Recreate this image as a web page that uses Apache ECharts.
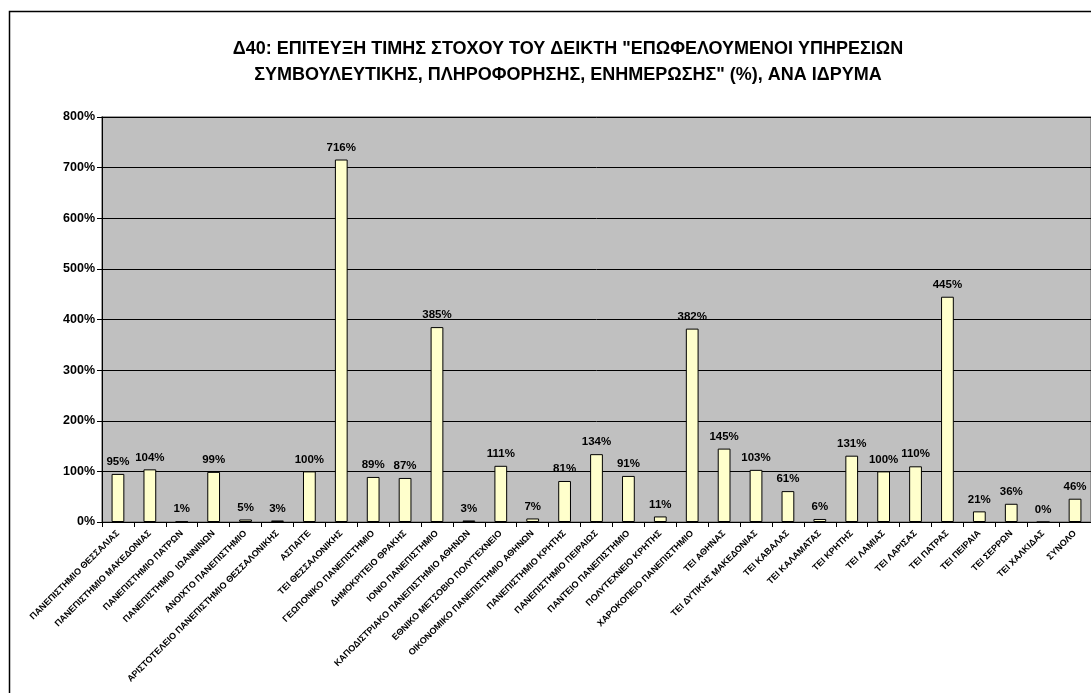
<!DOCTYPE html>
<html>
<head>
<meta charset="utf-8">
<script src="https://cdn.jsdelivr.net/npm/echarts@6/dist/echarts.min.js"></script>
<style>
html,body{margin:0;padding:0;background:#fff;}
#chart{width:1091px;height:693px;}
</style>
</head>
<body>
<div id="chart"></div>
<script>
const categories = [
  'ΠΑΝΕΠΙΣΤΗΜΙΟ ΘΕΣΣΑΛΙΑΣ','ΠΑΝΕΠΙΣΤΗΜΙΟ ΜΑΚΕΔΟΝΙΑΣ','ΠΑΝΕΠΙΣΤΗΜΙΟ ΠΑΤΡΩΝ','ΠΑΝΕΠΙΣΤΗΜΙΟ  ΙΩΑΝΝΙΝΩΝ',
  'ΑΝΟΙΧΤΟ ΠΑΝΕΠΙΣΤΗΜΙΟ','ΑΡΙΣΤΟΤΕΛΕΙΟ ΠΑΝΕΠΙΣΤΗΜΙΟ ΘΕΣΣΑΛΟΝΙΚΗΣ','ΑΣΠΑΙΤΕ','ΤΕΙ ΘΕΣΣΑΛΟΝΙΚΗΣ',
  'ΓΕΩΠΟΝΙΚΟ ΠΑΝΕΠΙΣΤΗΜΙΟ','ΔΗΜΟΚΡΙΤΕΙΟ ΘΡΑΚΗΣ','ΙΟΝΙΟ ΠΑΝΕΠΙΣΤΗΜΙΟ','ΚΑΠΟΔΙΣΤΡΙΑΚΟ ΠΑΝΕΠΙΣΤΗΜΙΟ ΑΘΗΝΩΝ',
  'ΕΘΝΙΚΟ ΜΕΤΣΟΒΙΟ ΠΟΛΥΤΕΧΝΕΙΟ','ΟΙΚΟΝΟΜΙΚΟ ΠΑΝΕΠΙΣΤΗΜΙΟ ΑΘΗΝΩΝ','ΠΑΝΕΠΙΣΤΗΜΙΟ ΚΡΗΤΗΣ','ΠΑΝΕΠΙΣΤΗΜΙΟ ΠΕΙΡΑΙΩΣ',
  'ΠΑΝΤΕΙΟ ΠΑΝΕΠΙΣΤΗΜΙΟ','ΠΟΛΥΤΕΧΝΕΙΟ ΚΡΗΤΗΣ','ΧΑΡΟΚΟΠΕΙΟ ΠΑΝΕΠΙΣΤΗΜΙΟ','ΤΕΙ ΑΘΗΝΑΣ',
  'ΤΕΙ ΔΥΤΙΚΗΣ ΜΑΚΕΔΟΝΙΑΣ','ΤΕΙ ΚΑΒΑΛΑΣ','ΤΕΙ ΚΑΛΑΜΑΤΑΣ','ΤΕΙ ΚΡΗΤΗΣ','ΤΕΙ ΛΑΜΙΑΣ','ΤΕΙ ΛΑΡΙΣΑΣ',
  'ΤΕΙ ΠΑΤΡΑΣ','ΤΕΙ ΠΕΙΡΑΙΑ','ΤΕΙ ΣΕΡΡΩΝ','ΤΕΙ ΧΑΛΚΙΔΑΣ','ΣΥΝΟΛΟ'
];
const values = [95,104,1,99,5,3,100,716,89,87,385,3,111,7,81,134,91,11,382,145,103,61,6,131,100,110,445,21,36,0,46];
const yTicks = [0,100,200,300,400,500,600,700,800];
const titleLines = ['Δ40: ΕΠΙΤΕΥΞΗ ΤΙΜΗΣ ΣΤΟΧΟΥ ΤΟΥ ΔΕΙΚΤΗ "ΕΠΩΦΕΛΟΥΜΕΝΟΙ ΥΠΗΡΕΣΙΩΝ','ΣΥΜΒΟΥΛΕΥΤΙΚΗΣ, ΠΛΗΡΟΦΟΡΗΣΗΣ, ΕΝΗΜΕΡΩΣΗΣ" (%), ΑΝΑ ΙΔΡΥΜΑ'];

const font = '"Liberation Sans", Arial, sans-serif';
const chart = echarts.init(document.getElementById('chart'));
chart.setOption({
  animation: false,
  backgroundColor: '#ffffff',
  title: {
    text: titleLines.join('\n'),
    left: 563, top: 31, textAlign: 'center',
    textStyle: {fontFamily: font, fontWeight: 'bold', fontSize: 18, color: '#000', lineHeight: 26}
  },
  graphic: [{
    type: 'rect', shape: {x: 9.5, y: 11.5, width: 1200, height: 800},
    style: {fill: 'none', stroke: '#000', lineWidth: 1.5}, z: 0, silent: true
  }],
  grid: {
    left: 102, top: 117, width: 992, height: 405,
    show: true, backgroundColor: '#C0C0C0', borderColor: '#808080', borderWidth: 1.5
  },
  xAxis: {
    type: 'category', data: categories,
    axisLine: {lineStyle: {color: '#000', width: 1}},
    axisTick: {show: true, alignWithLabel: false, length: 5, lineStyle: {color: '#000'}},
    axisLabel: {
      interval: 0, rotate: 45, margin: 10,
      fontFamily: font, fontWeight: 'bold', fontSize: 9, color: '#000'
    }
  },
  yAxis: {
    type: 'value', min: yTicks[0], max: yTicks[yTicks.length-1], interval: 100,
    axisLine: {show: true, lineStyle: {color: '#000'}},
    axisTick: {show: true, length: 5, lineStyle: {color: '#000'}},
    splitLine: {show: true, lineStyle: {color: '#000', width: 1}},
    axisLabel: {
      formatter: v => v + '%', margin: 7,
      fontFamily: font, fontWeight: 'bold', fontSize: 12.5, color: '#000'
    }
  },
  series: [{
    type: 'bar', data: values, barWidth: '40%',
    itemStyle: {color: '#FFFFCC', borderColor: '#000', borderWidth: 1},
    label: {
      show: true, position: 'top', distance: 6,
      formatter: p => p.value + '%',
      fontFamily: font, fontWeight: 'bold', fontSize: 11.5, color: '#000'
    }
  }]
});
</script>
</body>
</html>
